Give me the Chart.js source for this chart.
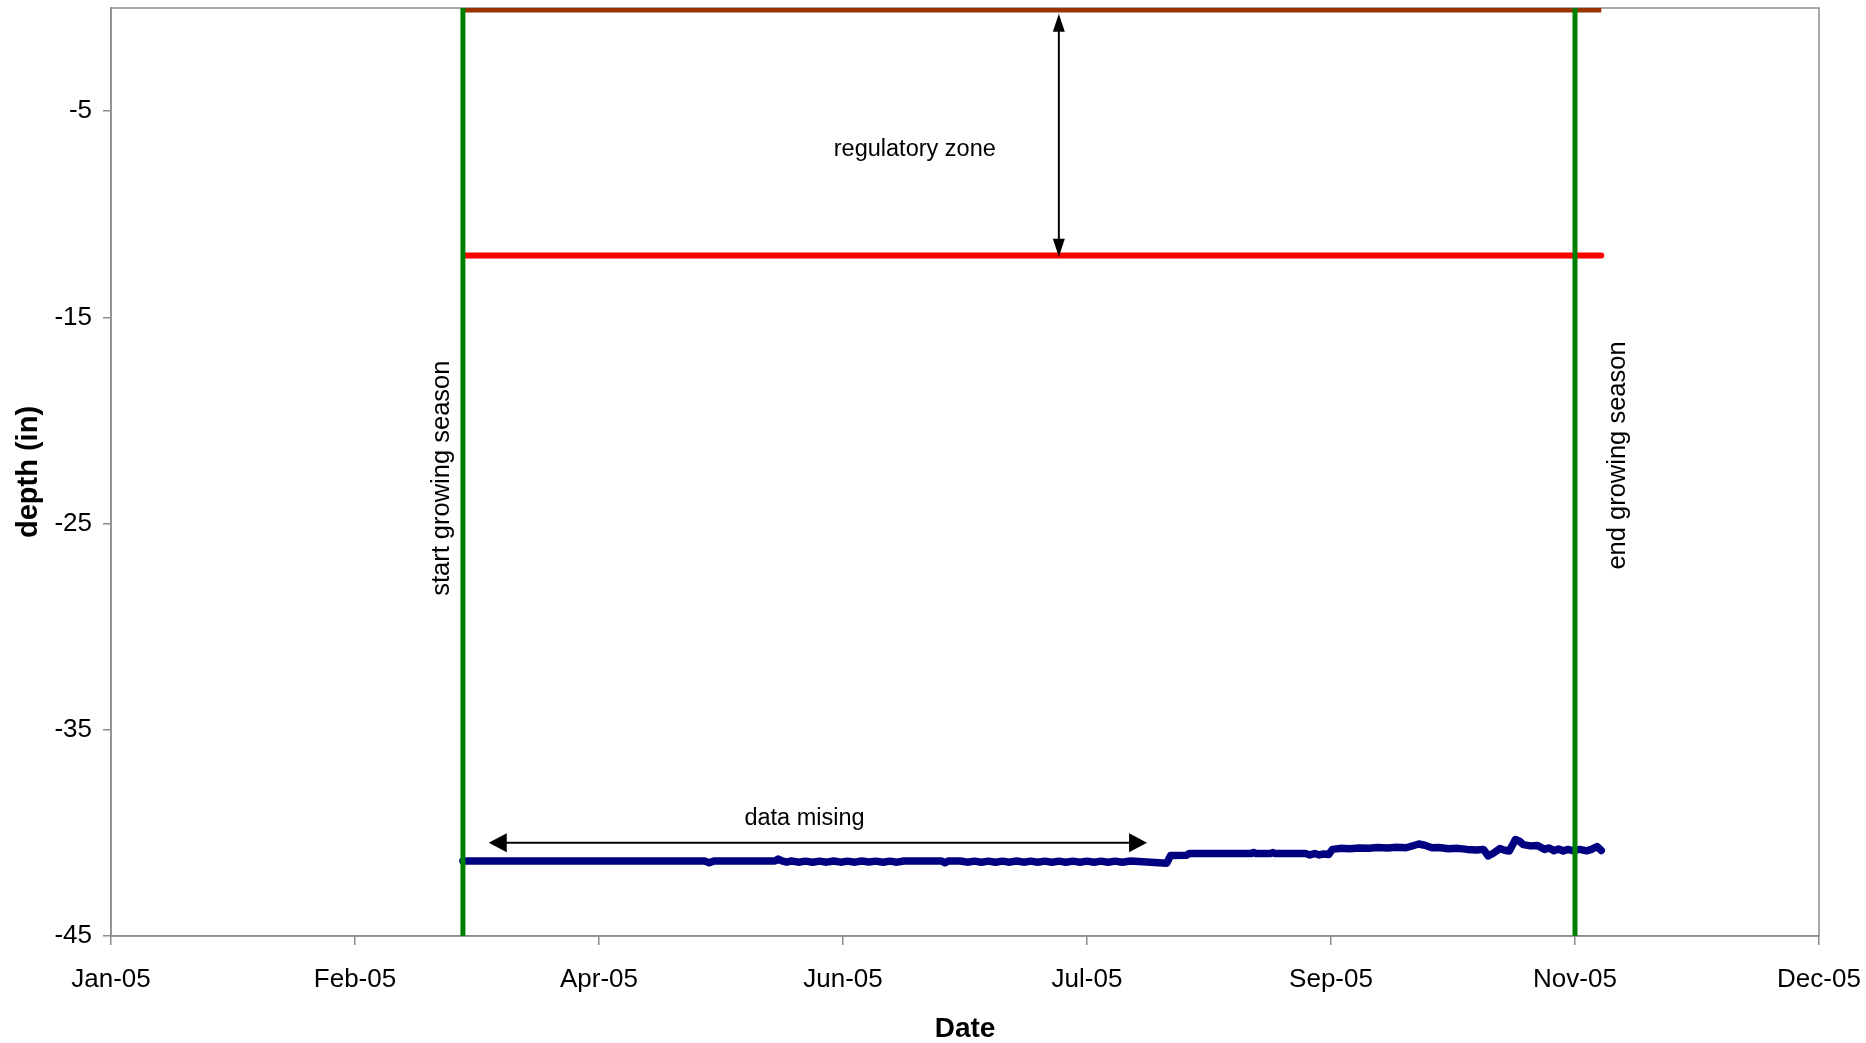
<!DOCTYPE html>
<html>
<head>
<meta charset="utf-8">
<title>Water table depth 2005</title>
<script src="https://cdn.jsdelivr.net/npm/chart.js@4.4.1/dist/chart.umd.min.js"></script>
<style>
    html, body { margin: 0; padding: 0; background: #fff; }
    #wrap { width: 1866px; height: 1043px; }
</style>
</head>
<body>
<div id="wrap"><canvas id="depthChart" width="1866" height="1043"></canvas></div>
<script>
// x values are days counted from 1 Jan 2005
const xTicks = [0, 52, 104, 156, 208, 260, 312, 364];
const yTicks = [-45, -35, -25, -15, -5];
const monthNames = ['Jan', 'Feb', 'Mar', 'Apr', 'May', 'Jun', 'Jul', 'Aug', 'Sep', 'Oct', 'Nov', 'Dec'];

// growing season limits
const seasonStart = 75;
const seasonEnd = 312;

// measured well depth (in)
const depthDays = [
    75, 100, 126.5, 127.5, 128.5, 141.5, 142.2, 143, 144, 145, 146.5, 148, 149.5, 151,
    152.5, 154, 155.5, 157, 158.5, 160, 161.5, 163, 164.5, 166, 167.5, 169, 177, 177.7,
    178.5, 181, 182.5, 184, 185.5, 187, 188.5, 190, 191.5, 193, 194.5, 196, 197.5, 199,
    200.5, 202, 203.5, 205, 206.5, 208, 209.5, 211, 212.5, 214, 215.5, 217.3, 225, 225.8,
    229.2, 229.8, 243, 243.5, 244, 247.2, 247.6, 248, 254.6, 255.5, 256.5, 257.5, 258.5,
    259.5, 260.3, 262, 264, 266, 268, 270, 272, 274, 276, 278.7, 280, 281.5, 283, 285,
    287, 289, 291, 292.5, 293.5, 294.5, 296, 297, 298, 299.3, 300.2, 301, 302.5, 304,
    305.5, 306.5, 307.5, 308.5, 309.5, 310.5, 311.5, 313, 314.5, 315.5, 316.7, 317.6
];
const depthValues = [
    -41.36, -41.36, -41.36, -41.45, -41.36, -41.36, -41.27, -41.36, -41.42, -41.36, -41.42, -41.37, -41.42, -41.37,
    -41.42, -41.36, -41.42, -41.37, -41.42, -41.36, -41.41, -41.37, -41.42, -41.37, -41.42, -41.36, -41.36, -41.45,
    -41.36, -41.36, -41.42, -41.37, -41.42, -41.37, -41.42, -41.37, -41.42, -41.36, -41.42, -41.37, -41.42, -41.37,
    -41.42, -41.37, -41.42, -41.37, -41.42, -41.37, -41.42, -41.37, -41.42, -41.37, -41.42, -41.36, -41.47, -41.1,
    -41.08, -41.0, -41.0, -40.95, -41.0, -41.0, -40.95, -41.0, -41.0, -41.07, -41.0, -41.07, -41.02,
    -41.05, -40.8, -40.75, -40.77, -40.73, -40.75, -40.71, -40.73, -40.7, -40.72, -40.54, -40.6, -40.72, -40.71, -40.77,
    -40.75, -40.8, -40.83, -40.8, -41.12, -41.0, -40.76, -40.84, -40.88, -40.32, -40.4, -40.57, -40.63, -40.61,
    -40.8, -40.73, -40.86, -40.78, -40.88, -40.8, -40.86, -40.8, -40.87, -40.8, -40.66, -40.85
];

// regulatory limits
const limitDays = [75.3, 317.6];
const regulatoryDepth = [-12, -12];
const surfaceDepth = [0, 0];

// annotations (data units)
const textNotes = [
    { text: 'regulatory zone', x: 171.3, y: -6.86, rot: 0, size: 23.5 },
    { text: 'data mising', x: 147.8, y: -39.31, rot: 0, size: 23.5 },
    { text: 'start growing season', x: 70.5, y: -22.8, rot: -90, size: 25.5 },
    { text: 'end growing season', x: 321.2, y: -21.7, rot: -90, size: 25.5 }
];
const arrowNotes = [
    { x1: 202, y1: -0.28, x2: 202, y2: -12.06, head: 18, wide: 12 },
    { x1: 80.5, y1: -40.48, x2: 220.8, y2: -40.48, head: 18, wide: 19 }
];

const FONT = "'Liberation Sans', Arial, sans-serif";

function toPoints(xs, ys) {
    return xs.map((x, i) => ({ x: x, y: ys[i] }));
}

function tickLabel(v) {
    const d = new Date(2005, 0, 1 + v);
    return monthNames[d.getMonth()] + '-' + String(d.getFullYear()).slice(2);
}

// frame round the plot area + text and arrows
const notesPlugin = {
    id: 'notes',
    beforeDatasetsDraw(chart) {
        const a = chart.chartArea;
        const ctx = chart.ctx;
        ctx.save();
        ctx.strokeStyle = '#8c8c8c';
        ctx.lineWidth = 1.5;
        ctx.strokeRect(a.left, a.top, a.right - a.left, a.bottom - a.top);
        ctx.restore();
    },
    afterDatasetsDraw(chart) {
        const ctx = chart.ctx;
        const xs = chart.scales.x;
        const ys = chart.scales.y;
        ctx.save();
        ctx.fillStyle = '#000';
        ctx.strokeStyle = '#000';
        textNotes.forEach(n => {
            ctx.save();
            ctx.translate(xs.getPixelForValue(n.x), ys.getPixelForValue(n.y));
            ctx.rotate(n.rot * Math.PI / 180);
            ctx.font = n.size + 'px ' + FONT;
            ctx.textAlign = 'center';
            ctx.textBaseline = 'middle';
            ctx.fillText(n.text, 0, 0);
            ctx.restore();
        });
        arrowNotes.forEach(n => {
            const p1 = { x: xs.getPixelForValue(n.x1), y: ys.getPixelForValue(n.y1) };
            const p2 = { x: xs.getPixelForValue(n.x2), y: ys.getPixelForValue(n.y2) };
            const ang = Math.atan2(p2.y - p1.y, p2.x - p1.x);
            ctx.lineWidth = 2;
            ctx.beginPath();
            ctx.moveTo(p1.x + Math.cos(ang) * n.head * 0.8, p1.y + Math.sin(ang) * n.head * 0.8);
            ctx.lineTo(p2.x - Math.cos(ang) * n.head * 0.8, p2.y - Math.sin(ang) * n.head * 0.8);
            ctx.stroke();
            [[p1, ang + Math.PI], [p2, ang]].forEach(([p, a]) => {
                const bx = p.x - Math.cos(a) * n.head;
                const by = p.y - Math.sin(a) * n.head;
                const nx = -Math.sin(a) * n.wide / 2;
                const ny = Math.cos(a) * n.wide / 2;
                ctx.beginPath();
                ctx.moveTo(p.x, p.y);
                ctx.lineTo(bx + nx, by + ny);
                ctx.lineTo(bx - nx, by - ny);
                ctx.closePath();
                ctx.fill();
            });
        });
        ctx.restore();
    }
};

const ctx = document.getElementById('depthChart').getContext('2d');
const depthChart = new Chart(ctx, {
    type: 'scatter',
    data: {
        datasets: [
            {
                label: 'start growing season',
                data: toPoints([seasonStart, seasonStart], [0, -45]),
                borderColor: '#008000',
                borderWidth: 5,
                showLine: true,
                pointRadius: 0,
                clip: 0
            },
            {
                label: 'end growing season',
                data: toPoints([seasonEnd, seasonEnd], [0, -45]),
                borderColor: '#008000',
                borderWidth: 5,
                showLine: true,
                pointRadius: 0,
                clip: 0
            },
            {
                label: 'surface',
                data: toPoints(limitDays, surfaceDepth),
                borderColor: '#993300',
                borderWidth: 9,
                showLine: true,
                pointRadius: 0,
                clip: 0
            },
            {
                label: 'regulatory depth',
                data: toPoints(limitDays, regulatoryDepth),
                borderColor: '#ff0000',
                borderWidth: 6,
                borderCapStyle: 'round',
                showLine: true,
                pointRadius: 0
            },
            {
                label: 'well depth',
                data: toPoints(depthDays, depthValues),
                borderColor: '#000080',
                borderWidth: 7.5,
                borderCapStyle: 'round',
                borderJoinStyle: 'round',
                showLine: true,
                pointRadius: 0
            }
        ]
    },
    options: {
        responsive: false,
        animation: false,
        devicePixelRatio: 1,
        layout: { padding: { top: 8, right: 47, left: 0, bottom: 0 } },
        plugins: {
            legend: { display: false },
            tooltip: { enabled: false }
        },
        scales: {
            x: {
                type: 'linear',
                min: 0,
                max: 364,
                afterBuildTicks: axis => { axis.ticks = xTicks.map(v => ({ value: v })); },
                afterFit: axis => {
                    axis.height = 107;
                    axis.paddingLeft = 0;
                    axis.paddingRight = 0;
                },
                grid: { drawOnChartArea: false, drawTicks: true, tickLength: 9, color: '#8c8c8c', lineWidth: 1.5 },
                border: { color: '#8c8c8c', width: 1.5 },
                ticks: {
                    callback: v => tickLabel(v),
                    color: '#000',
                    font: { family: FONT, size: 26 },
                    padding: 19,
                    maxRotation: 0,
                    autoSkip: false
                },
                title: {
                    display: true,
                    text: 'Date',
                    color: '#000',
                    font: { family: FONT, size: 28, weight: 'bold', lineHeight: 0.95 },
                    padding: 0
                }
            },
            y: {
                type: 'linear',
                min: -45,
                max: 0,
                afterBuildTicks: axis => { axis.ticks = yTicks.map(v => ({ value: v })); },
                afterFit: axis => {
                    axis.width = 111;
                    axis.paddingTop = 0;
                    axis.paddingBottom = 0;
                },
                grid: { drawOnChartArea: false, drawTicks: true, tickLength: 8, color: '#8c8c8c', lineWidth: 1.5 },
                border: { color: '#8c8c8c', width: 1.5 },
                ticks: {
                    color: '#000',
                    font: { family: FONT, size: 26 },
                    padding: 11
                },
                title: {
                    display: true,
                    text: 'depth (in)',
                    color: '#000',
                    font: { family: FONT, size: 29, weight: 'bold' },
                    padding: 11.5
                }
            }
        }
    },
    plugins: [notesPlugin]
});
</script>
</body>
</html>
